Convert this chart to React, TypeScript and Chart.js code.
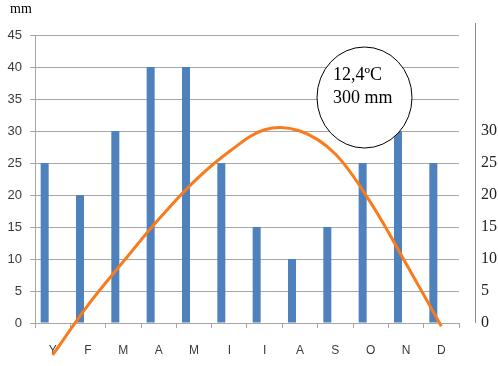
import React, { useEffect, useRef } from 'react';
import { Chart, registerables } from 'chart.js';

Chart.register(...registerables);

const months = ['Y', 'F', 'M', 'A', 'M', 'I', 'I', 'A', 'S', 'O', 'N', 'D'];
const precipitation = [25, 20, 30, 40, 40, 25, 15, 10, 15, 25, 30, 25];
const temperature = [-5, 2.8, 9.6, 16.2, 22.1, 26.8, 30.2, 30.0, 26.4, 18.8, 9.3, -0.5];
const emptySeries = months.map(() => null);
const axisMax = 45;
const axisStep = 5;
const rightTickMax = 30;
const unitLabel = 'mm';
const summaryLines = ['12,4ºC', '300 mm'];

const overlay = {
  id: 'overlay',
  afterDraw(chart: any) {
    const ctx = chart.ctx;
    const area = chart.chartArea;
    ctx.save();
    // right axis line
    ctx.strokeStyle = '#8c8c8c';
    ctx.lineWidth = 1;
    ctx.beginPath();
    ctx.moveTo(475.5, 23);
    ctx.lineTo(475.5, area.bottom);
    ctx.stroke();
    // unit label
    ctx.fillStyle = '#000';
    ctx.textAlign = 'left';
    ctx.textBaseline = 'alphabetic';
    ctx.font = '14px "Liberation Serif"';
    ctx.fillText(unitLabel, 10, 13);
    // summary circle
    ctx.beginPath();
    ctx.ellipse(364.5, 97.5, 47.5, 50.5, 0, 0, Math.PI * 2);
    ctx.fillStyle = '#fff';
    ctx.fill();
    ctx.strokeStyle = '#000';
    ctx.lineWidth = 1;
    ctx.stroke();
    ctx.fillStyle = '#000';
    ctx.font = '18px "Liberation Serif"';
    ctx.fillText(summaryLines[0], 333, 80);
    ctx.fillText(summaryLines[1], 333, 103);
    ctx.restore();
  },
};

export default function App() {
  const ref = useRef<HTMLCanvasElement>(null);
  useEffect(() => {
    if (!ref.current) return;
    const gray = '#a6a6a6';
    const chart = new Chart(ref.current, {
      type: 'bar',
      data: {
        labels: months,
        datasets: [
          {
            type: 'line',
            data: temperature,
            yAxisID: 'y2',
            borderColor: '#f97b1c',
            borderWidth: 3,
            pointRadius: 0,
            tension: 0.35,
            clip: false,
            order: 0,
          } as any,
          {
            type: 'bar',
            data: precipitation,
            yAxisID: 'y',
            backgroundColor: '#4f81bd',
            categoryPercentage: 0.906,
            barPercentage: 0.5,
            order: 1,
          },
          {
            type: 'bar',
            data: emptySeries,
            yAxisID: 'y',
            backgroundColor: '#c0504d',
            categoryPercentage: 0.906,
            barPercentage: 0.5,
            order: 2,
          },
        ],
      },
      options: {
        animation: false,
        responsive: false,
        devicePixelRatio: 1,
        layout: { padding: { top: 35, left: 0, right: 0, bottom: 0 } },
        plugins: { legend: { display: false }, tooltip: { enabled: false } },
        scales: {
          x: {
            afterFit: (s: any) => { s.height = 43; },
            grid: { drawOnChartArea: false, drawTicks: true, tickLength: 5, color: gray, offset: true },
            border: { display: true, color: gray },
            ticks: { color: '#3a3a3a', font: { family: '"Liberation Sans"', size: 12 }, padding: 15, maxRotation: 0, autoSkip: false },
          },
          y: {
            position: 'left',
            min: 0,
            max: axisMax,
            afterFit: (s: any) => { s.width = 35; },
            grid: { color: gray, tickLength: 5, drawTicks: true },
            border: { display: true, color: gray },
            ticks: { stepSize: axisStep, color: '#3a3a3a', font: { family: '"Liberation Sans"', size: 13 }, padding: 8 },
          },
          y2: {
            position: 'right',
            min: 0,
            max: axisMax,
            afterFit: (s: any) => { s.width = 39; },
            grid: { display: false, drawTicks: false },
            border: { display: false },
            ticks: {
              stepSize: axisStep,
              color: '#222',
              font: { family: '"Liberation Serif"', size: 16 },
              padding: 22,
              callback: (v: any) => (Number(v) <= rightTickMax ? String(v) : null),
            },
          },
        },
      },
      plugins: [overlay],
    });
    return () => chart.destroy();
  }, []);
  return (
    <div style={{ position: 'absolute', left: 0, top: 0, width: 498, height: 366, background: '#fff' }}>
      <canvas ref={ref} width={498} height={366} style={{ display: 'block' }} />
    </div>
  );
}
